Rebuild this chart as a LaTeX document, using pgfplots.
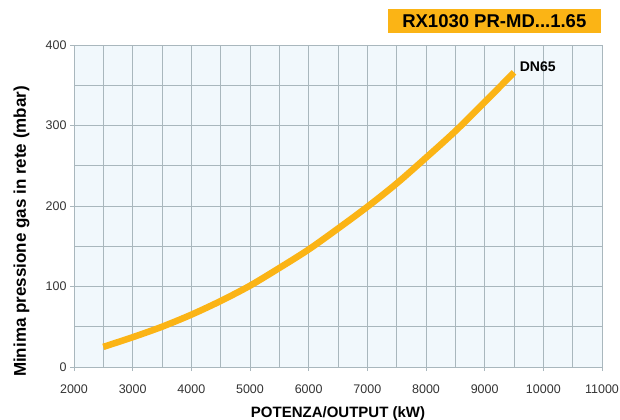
\documentclass[border=0pt]{standalone}
\usepackage{pgfplots}
\pgfplotsset{compat=1.18}
\usepackage{fontspec}
\setmainfont{Liberation Sans}
\definecolor{curve}{HTML}{FBB415}
\definecolor{bgblue}{HTML}{F1F8FC}
\definecolor{gridc}{HTML}{A9B7BD}
\definecolor{tickc}{HTML}{333333}
\begin{document}
\begin{tikzpicture}
\begin{axis}[
    scale only axis,
    width=528pt,
    height=322pt,
    xmin=2000, xmax=11000,
    ymin=0, ymax=400,
    xtick={2000,3000,...,11000},
    ytick={0,100,...,400},
    minor xtick={2500,3500,...,10500},
    minor ytick={50,150,...,350},
    scaled ticks=false,
    grid=both,
    major grid style={gridc, line width=0.9pt},
    minor grid style={gridc, line width=0.9pt},
    axis line style={gridc, line width=0.9pt},
    axis background/.style={fill=bgblue},
    tick style={gridc, line width=0.9pt},
    tick align=outside,
    major tick length=4pt,
    minor tick length=0pt,
    xtick pos=bottom, ytick pos=left,
    ticklabel style={font=\fontsize{12.5}{15}\selectfont, text=tickc},
    xticklabel style={anchor=north, inner sep=0pt, yshift=-14pt},
    /pgf/number format/assume math mode=true,
    /pgf/number format/1000 sep={},
    xlabel={\textbf{POTENZA/OUTPUT (kW)}},
    ylabel={\textbf{Minima pressione gas in rete (mbar)}},
    xlabel style={font=\fontsize{15}{17}\selectfont, anchor=base,
        at={([yshift=-50pt]axis description cs:0.5,0)}},
    ylabel style={font=\fontsize{17}{19}\selectfont, anchor=base,
        at={([xshift=-48pt,yshift=-25.5pt]axis description cs:0,0.5)}},
    clip=false,
]
\addplot[curve, line width=6.5pt, smooth] coordinates {
(2500,25) (3000,37) (3500,50) (4000,65) (4500,82) (5000,101)
(5500,123) (6000,146) (6500,172) (7000,199) (7500,228) (8000,260)
(8500,293) (9000,329) (9500,366)
};
\node[anchor=base west, inner sep=0pt, font=\bfseries\fontsize{14}{16}\selectfont]
    at (axis cs:9596,367) {DN65};
\node[anchor=north east, fill=curve, inner sep=0pt, minimum width=213pt,
      minimum height=24pt, font=\bfseries\fontsize{18.5}{20}\selectfont]
      at ([xshift=-1pt, yshift=36pt]rel axis cs:1,1) {RX1030 PR-MD...1.65};
\coordinate (ll) at (rel axis cs:0,0);
\coordinate (ur) at (rel axis cs:1,1);
\end{axis}
\pgfresetboundingbox
\path ([shift={(-74pt,-52pt)}]ll) rectangle ([shift={(18pt,45pt)}]ur);
\end{tikzpicture}
\end{document}
